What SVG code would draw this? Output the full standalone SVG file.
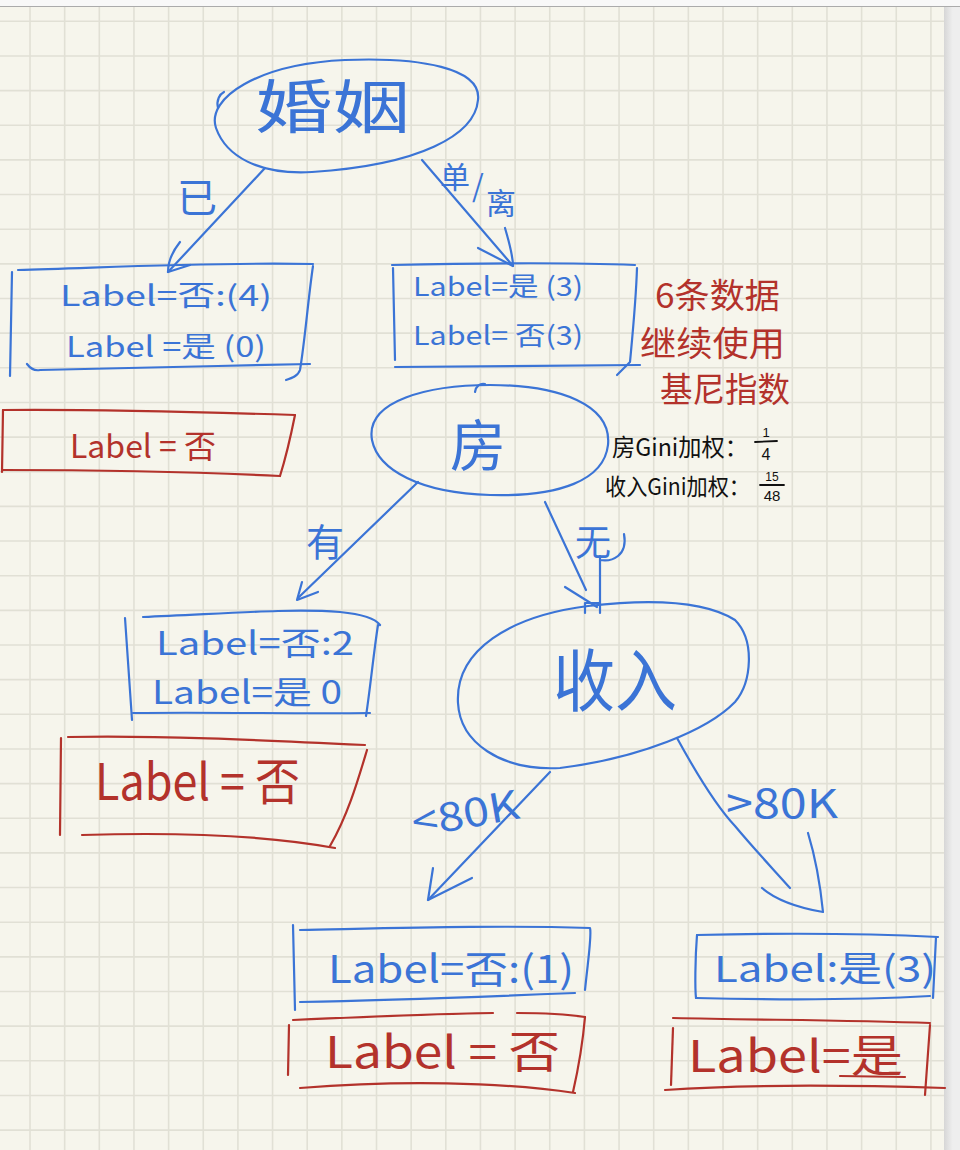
<svg xmlns="http://www.w3.org/2000/svg" width="960" height="1150" viewBox="0 0 960 1150">
<defs>
<style>
.sb{fill:none;stroke:#3b74d6;stroke-width:2.2;stroke-linecap:round;stroke-linejoin:round}
.sr{fill:none;stroke:#b3322b;stroke-width:2.2;stroke-linecap:round;stroke-linejoin:round}
.tb{fill:#3b74d6;font-family:"Noto Sans CJK SC","Noto Sans",sans-serif}
.tr{fill:#b3322b;font-family:"Noto Sans CJK SC","Noto Sans",sans-serif}
.tk{fill:#111111;font-family:"Noto Sans CJK SC","Noto Sans",sans-serif}
.fr{fill:#111111;font-family:"Liberation Sans",Arial,sans-serif}
.grid{fill:none;stroke:#e1e0d5;stroke-width:1.6}
</style>
<linearGradient id="shadow" x1="0" y1="0" x2="1" y2="0">
<stop offset="0" stop-color="#d6d6d6"/>
<stop offset="1" stop-color="#efefef"/>
</linearGradient>
</defs>
<g id="paper">
<rect x="0" y="0" width="960" height="1150" fill="#f6f5ec"/>
<path class="grid" d="M30 6V1150M64.65 6V1150M99.3 6V1150M133.95 6V1150M168.6 6V1150M203.25 6V1150M237.9 6V1150M272.55 6V1150M307.2 6V1150M341.85 6V1150M376.5 6V1150M411.15 6V1150M445.8 6V1150M480.45 6V1150M515.1 6V1150M549.75 6V1150M584.4 6V1150M619.05 6V1150M653.7 6V1150M688.35 6V1150M723 6V1150M757.65 6V1150M792.3 6V1150M826.95 6V1150M861.6 6V1150M896.25 6V1150M930.9 6V1150"/>
<path class="grid" d="M0 21.3H944M0 55.95H944M0 90.6H944M0 125.25H944M0 159.9H944M0 194.55H944M0 229.2H944M0 263.85H944M0 298.5H944M0 333.15H944M0 367.8H944M0 402.45H944M0 437.1H944M0 471.75H944M0 506.4H944M0 541.05H944M0 575.7H944M0 610.35H944M0 645H944M0 679.65H944M0 714.3H944M0 748.95H944M0 783.6H944M0 818.25H944M0 852.9H944M0 887.55H944M0 922.2H944M0 956.85H944M0 991.5H944M0 1026.15H944M0 1060.8H944M0 1095.45H944M0 1130.1H944"/>
<rect x="0" y="0" width="960" height="6" fill="#f8f8f8"/>
<line x1="0" y1="6.5" x2="960" y2="6.5" stroke="#ababab" stroke-width="1"/>
<rect x="944" y="7" width="16" height="1143" fill="#eeeeee"/>
<rect x="944" y="7" width="9" height="1143" fill="url(#shadow)"/>
</g>
<g id="connectors">
<g id="c-married">
<path class="sb" d="M265 168 L168 272"/>
<path class="sb" d="M180 242 C172 252,168 262,168 272 L190 265"/>
<text class="tb" x="197" y="212" font-size="40" text-anchor="middle">已</text>
</g>
<g id="c-single">
<path class="sb" d="M422 160 L513 266"/>
<path class="sb" d="M505 228 C510 245,513 258,513 266 L478 248"/>
<text class="tb" x="440" y="188" font-size="30">单</text>
<text class="tb" x="472" y="197" font-size="30">/</text>
<text class="tb" x="486" y="214" font-size="30">离</text>
</g>
<g id="c-house-yes">
<path class="sb" d="M418 482 L298 598"/>
<path class="sb" d="M302 582 L297 600 L318 592"/>
<text class="tb" x="325" y="556" font-size="38" text-anchor="middle">有</text>
</g>
<g id="c-house-no">
<path class="sb" d="M545 502 L586 590"/>
<path class="sb" d="M565 587 L597 607"/>
<text class="tb" x="593" y="556" font-size="36" text-anchor="middle">无</text>
<path class="sb" d="M600 556 L600 605 M600 560 C612 562,628 556,624 534"/>
</g>
<g id="c-income-low">
<path class="sb" d="M550 772 L428 900"/>
<path class="sb" d="M433 868 L428 900 L472 878"/>
<text class="tb" x="465" y="828" font-size="40" text-anchor="middle" textLength="108" lengthAdjust="spacingAndGlyphs" transform="rotate(-10 465 812)">&lt;80K</text>
</g>
<g id="c-income-high">
<path class="sb" d="M677 738 C700 780,718 808,735 826 C755 850,774 870,790 888"/>
<path class="sb" d="M762 888 C776 900,800 908,823 912 C820 882,815 856,808 833"/>
<text class="tb" x="782" y="818" font-size="40" text-anchor="middle" textLength="112" lengthAdjust="spacingAndGlyphs">&gt;80K</text>
</g>
</g>
<g id="n-marriage">
<path class="sb" d="M216 128 C206 98,258 64,345 60 C420 57,482 68,478 100 C475 135,420 165,312 172 C258 175,226 156,216 128"/>
<path class="sb" d="M218 108 C216 100,220 94,224 92"/>
<text class="tb" x="255" y="128" font-size="58" textLength="155" lengthAdjust="spacingAndGlyphs">婚姻</text>
</g>
<g id="n-married-counts">
<path class="sb" d="M12 272 L10 376"/>
<path class="sb" d="M18 270 C100 268,200 262,313 264"/>
<path class="sb" d="M313 266 C308 300,305 340,300 370 C298 376,292 378,286 380"/>
<path class="sb" d="M27 364 C30 368,35 371,40 370 C120 368,220 366,310 364"/>
<text class="tb" x="60" y="306" font-size="28" textLength="212" lengthAdjust="spacingAndGlyphs">Label=否:(4)</text>
<text class="tb" x="66" y="357" font-size="28" textLength="200" lengthAdjust="spacingAndGlyphs">Label =是 (0)</text>
</g>
<g id="n-married-result">
<path class="sr" d="M3 410 L2 472"/>
<path class="sr" d="M3 410 C100 409,200 412,295 415"/>
<path class="sr" d="M295 415 C290 440,285 460,280 476"/>
<path class="sr" d="M3 470 C100 470,200 472,280 476"/>
<text class="tr" x="70" y="458" font-size="32" textLength="146" lengthAdjust="spacingAndGlyphs">Label = 否</text>
</g>
<g id="n-single-counts">
<path class="sb" d="M393 268 L395 360"/>
<path class="sb" d="M392 265 C480 263,560 262,635 265"/>
<path class="sb" d="M637 268 C636 300,633 330,630 362 L617 375"/>
<path class="sb" d="M395 367 C480 366,560 365,640 365"/>
<text class="tb" x="413" y="296" font-size="26" textLength="170" lengthAdjust="spacingAndGlyphs">Label=是 (3)</text>
<text class="tb" x="413" y="345" font-size="26" textLength="170" lengthAdjust="spacingAndGlyphs">Label= 否(3)</text>
</g>
<g id="note-red">
<text class="tr" x="655" y="308" font-size="34" textLength="125" lengthAdjust="spacingAndGlyphs">6条数据</text>
<text class="tr" x="640" y="356" font-size="34" textLength="145" lengthAdjust="spacingAndGlyphs">继续使用</text>
<text class="tr" x="660" y="402" font-size="34" textLength="130" lengthAdjust="spacingAndGlyphs">基尼指数</text>
</g>
<g id="note-black">
<text class="tk" x="612" y="456" font-size="24" textLength="136" lengthAdjust="spacingAndGlyphs">房Gini加权：</text>
<text class="fr" x="766" y="437" font-size="13" text-anchor="middle">1</text>
<line x1="755" y1="442" x2="777" y2="441" stroke="#111" stroke-width="1.8" stroke-linecap="round"/>
<text class="fr" x="766" y="460" font-size="16" text-anchor="middle">4</text>
<text class="tk" x="605" y="495" font-size="23" textLength="145" lengthAdjust="spacingAndGlyphs">收入Gini加权：</text>
<text class="fr" x="772" y="481" font-size="12" text-anchor="middle">15</text>
<line x1="760" y1="485" x2="784" y2="485" stroke="#111" stroke-width="1.8" stroke-linecap="round"/>
<text class="fr" x="772" y="501" font-size="15" text-anchor="middle">48</text>
</g>
<g id="n-house">
<path class="sb" d="M372 440 C365 400,430 385,490 385 C560 385,612 405,608 445 C604 480,560 497,490 495 C420 493,378 470,372 440"/>
<path class="sb" d="M475 392 C476 386,480 383,485 384"/>
<text class="tb" x="478" y="466" font-size="56" text-anchor="middle">房</text>
</g>
<g id="n-house-yes-counts">
<path class="sb" d="M125 618 L132 720"/>
<path class="sb" d="M143 617 C220 614,290 608,340 612 C360 614,375 618,380 625"/>
<path class="sb" d="M378 625 C374 650,370 690,366 716"/>
<path class="sb" d="M133 713 C220 712,300 714,370 713"/>
<text class="tb" x="156" y="655" font-size="32" textLength="198" lengthAdjust="spacingAndGlyphs">Label=否:2</text>
<text class="tb" x="152" y="704" font-size="32" textLength="190" lengthAdjust="spacingAndGlyphs">Label=是 0</text>
</g>
<g id="n-house-yes-result">
<path class="sr" d="M61 738 L60 835"/>
<path class="sr" d="M68 737 C150 735,260 740,365 745"/>
<path class="sr" d="M367 750 C358 780,348 815,330 846"/>
<path class="sr" d="M82 835 C180 832,270 836,335 848"/>
<text class="tr" x="95" y="800" font-size="50" textLength="205" lengthAdjust="spacingAndGlyphs">Label = 否</text>
</g>
<g id="n-income">
<path class="sb" d="M458 703 C455 650,510 616,588 606 C640 600,700 598,735 620 C755 640,752 682,735 702 C708 730,640 758,560 768 C500 771,460 742,458 703"/>
<path class="sb" d="M585 613 L585 603 L600 603 L600 613"/>
<text class="tb" x="615" y="706" font-size="68" text-anchor="middle" textLength="124" lengthAdjust="spacingAndGlyphs">收入</text>
</g>
<g id="n-income-low-counts">
<path class="sb" d="M293 925 L295 1010"/>
<path class="sb" d="M300 930 C400 928,500 925,590 928 C592 935,588 960,585 990"/>
<path class="sb" d="M300 1002 C400 1000,500 996,575 993"/>
<text class="tb" x="328" y="983" font-size="38" textLength="246" lengthAdjust="spacingAndGlyphs">Label=否:(1)</text>
</g>
<g id="n-income-high-counts">
<path class="sb" d="M697 935 C695 960,695 990,696 998"/>
<path class="sb" d="M697 935 C780 933,860 933,938 937"/>
<path class="sb" d="M936 937 L933 998"/>
<path class="sb" d="M696 998 C780 1000,860 1000,930 996"/>
<text class="tb" x="714" y="982" font-size="36" textLength="222" lengthAdjust="spacingAndGlyphs">Label:是(3)</text>
</g>
<g id="n-income-low-result">
<path class="sr" d="M293 1020 C360 1017,430 1014,493 1013 M517 1013 C545 1013,565 1014,585 1017"/>
<path class="sr" d="M289 1025 L288 1075"/>
<path class="sr" d="M585 1017 C583 1040,578 1070,573 1092"/>
<path class="sr" d="M300 1088 C400 1080,500 1082,575 1093"/>
<text class="tr" x="325" y="1068" font-size="44" textLength="235" lengthAdjust="spacingAndGlyphs">Label = 否</text>
</g>
<g id="n-income-high-result">
<path class="sr" d="M673 1018 C760 1020,850 1020,930 1023"/>
<path class="sr" d="M673 1028 L671 1085"/>
<path class="sr" d="M930 1025 L925 1095"/>
<path class="sr" d="M665 1090 C750 1084,850 1085,945 1088"/>
<text class="tr" x="688" y="1072" font-size="44" textLength="215" lengthAdjust="spacingAndGlyphs">Label=是</text>
<path class="sr" d="M840 1076 L905 1077"/>
</g>
</svg>
